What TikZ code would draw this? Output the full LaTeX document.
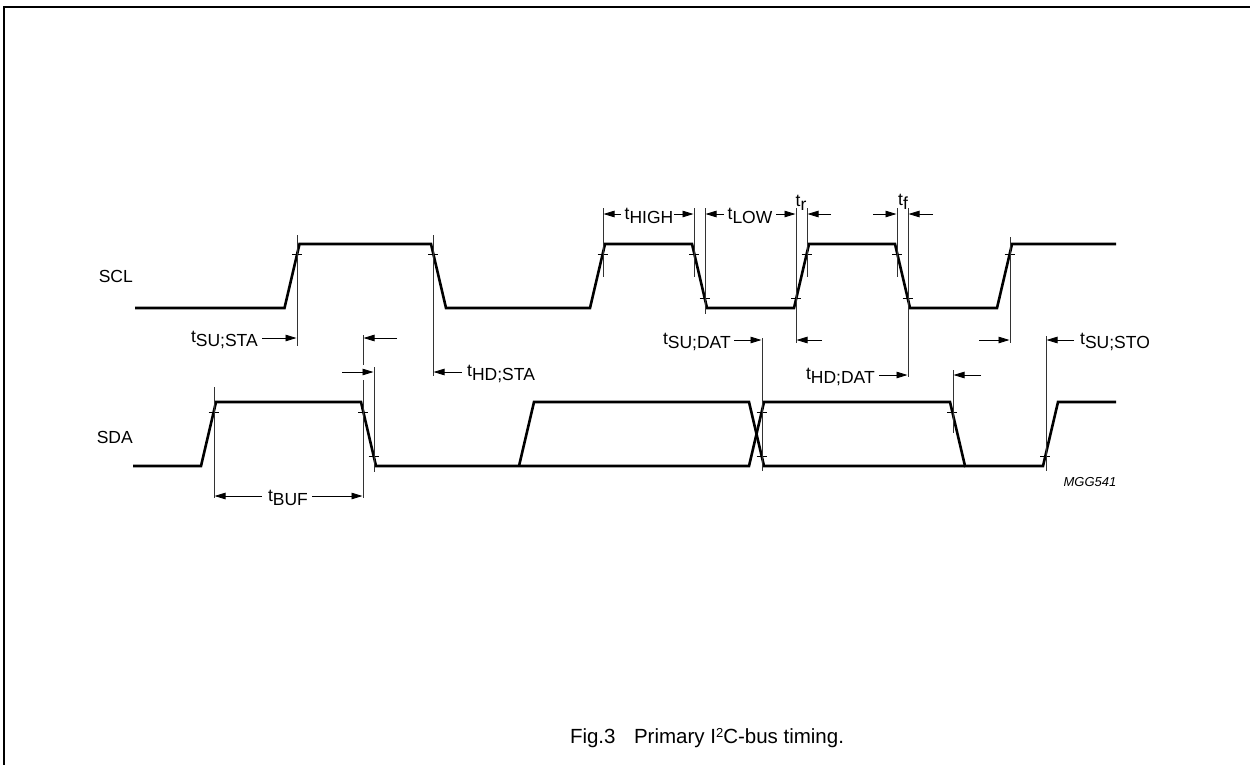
\documentclass[tikz,border=0pt]{standalone}
\usepackage{fontspec}
\setmainfont{Liberation Sans}
\usetikzlibrary{arrows.meta}
\newcommand\tsb[1]{t\raisebox{-0.42ex}{#1}}
\begin{document}
\begin{tikzpicture}[x=1pt,y=-1pt,
  wave/.style={line width=2.6pt, line join=miter},
  refl/.style={line width=0.9pt, draw=black!80},
  tick/.style={line width=0.8pt},
  dim/.style={line width=0.9pt, -{Triangle[length=11pt,width=6.5pt]}},
  lab/.style={font=\fontsize{17.5}{17.5}\selectfont, inner sep=0pt},
]
\useasboundingbox (0,0) rectangle (1250,764);
\draw[line width=1.5pt] (4,765) -- (4,7) -- (1252,7);

% SCL waveform
\draw[wave] (135,308) -- (284.5,308) -- (299.5,244) -- (431,244) -- (446,308)
  -- (590,308) -- (605,244) -- (692,244) -- (707,308) -- (794,308) -- (809,244)
  -- (895,244) -- (910,308) -- (997,308) -- (1012,244) -- (1116,244);
% SDA waveform
\draw[wave] (133,466) -- (201,466) -- (216,402) -- (361,402) -- (376,466)
  -- (749,466) -- (764,402) -- (950,402) -- (965,466) -- (1043,466) -- (1058,402) -- (1116,402);
\draw[wave] (519,466) -- (534,402) -- (749,402) -- (764,466) -- (965,466);

% ticks SCL
\foreach \x/\y in {297/254, 433.3/254, 602.7/254, 694.3/254, 704.7/298, 796.3/298, 806.7/254, 897.3/254, 907.7/298, 1009.7/254}
  \draw[tick] (\x-5,\y) -- (\x+5,\y);
% ticks SDA
\foreach \x/\y in {213.7/412, 363.3/412, 373.7/456, 761.7/412, 761.7/456, 952.3/412, 1045.3/456}
  \draw[tick] (\x-5,\y) -- (\x+5,\y);

% reference lines SCL
\draw[refl] (297,235) -- (297,346);
\draw[refl] (433,235) -- (433,376);
\draw[refl] (603,208) -- (603,277);
\draw[refl] (694,208) -- (694,277);
\draw[refl] (705,208) -- (705,314);
\draw[refl] (796,208) -- (796,343);
\draw[refl] (807,208) -- (807,277);
\draw[refl] (897,208) -- (897,277);
\draw[refl] (908,208) -- (908,377);
\draw[refl] (1010,237) -- (1010,343);
% reference lines SDA
\draw[refl] (214,387) -- (214,498);
\draw[refl] (363,335) -- (363,365);
\draw[refl] (363,380) -- (363,498);
\draw[refl] (374,367) -- (374,472);
\draw[refl] (762,338) -- (762,471);
\draw[refl] (953,370) -- (953,433);
\draw[refl] (1046,336) -- (1046,471);

% row at top
\node[lab] (thigh) at (649,216) {\tsb{HIGH}};
\draw[dim] (621,214) -- (603.5,214);
\draw[dim] (674,214) -- (693.5,214);
\node[lab] (tlow) at (750,216) {\tsb{LOW}};
\draw[dim] (724,214) -- (705.5,214);
\draw[dim] (776,214) -- (795.5,214);
\node[lab] (tr) at (801,203) {\tsb{r}};
\draw[dim] (831,214) -- (807.5,214);
\node[lab] (tf) at (903,202) {\tsb{f}};
\draw[dim] (873,214) -- (896.5,214);
\draw[dim] (933,214) -- (908.5,214);

% row B
\node[lab, anchor=east] (tsusta) at (258,340) {\tsb{SU;STA}};
\draw[dim] (262,338) -- (296.5,338);
\draw[dim] (397,338) -- (363.5,338);
\node[lab, anchor=east] (tsudat) at (731,342) {\tsb{SU;DAT}};
\draw[dim] (734,340) -- (761.5,340);
\draw[dim] (822,340) -- (796.5,340);
\draw[dim] (979,340) -- (1009.5,340);
\draw[dim] (1074,340) -- (1046.5,340);
\node[lab, anchor=west] (tsusto) at (1080,342) {\tsb{SU;STO}};

% row C
\draw[dim] (342,372) -- (373.5,372);
\draw[dim] (462,372) -- (433.5,372);
\node[lab, anchor=west] (thdsta) at (467,374) {\tsb{HD;STA}};
\node[lab, anchor=east] (thddat) at (875,377) {\tsb{HD;DAT}};
\draw[dim] (879,375) -- (907.5,375);
\draw[dim] (981,375) -- (953.5,375);

% row D
\node[lab] (tbuf) at (288,498) {\tsb{BUF}};
\draw[dim] (262,496) -- (214.5,496);
\draw[dim] (312,496) -- (362.5,496);

% signal names
\node[lab, anchor=east] (scl) at (133,276) {SCL};
\node[lab, anchor=east] (sda) at (133,437) {SDA};
\node[inner sep=0pt, font=\fontsize{13}{13}\selectfont\itshape] (code) at (1090,482) {MGG541};

% caption
\node[inner sep=0pt, font=\fontsize{20.5}{20.5}\selectfont] (cap) at (707,738) {Fig.3\hspace{0.9em}Primary I\raisebox{0.55ex}{\fontsize{13}{13}\selectfont 2}C-bus timing.};
\end{tikzpicture}
\end{document}
